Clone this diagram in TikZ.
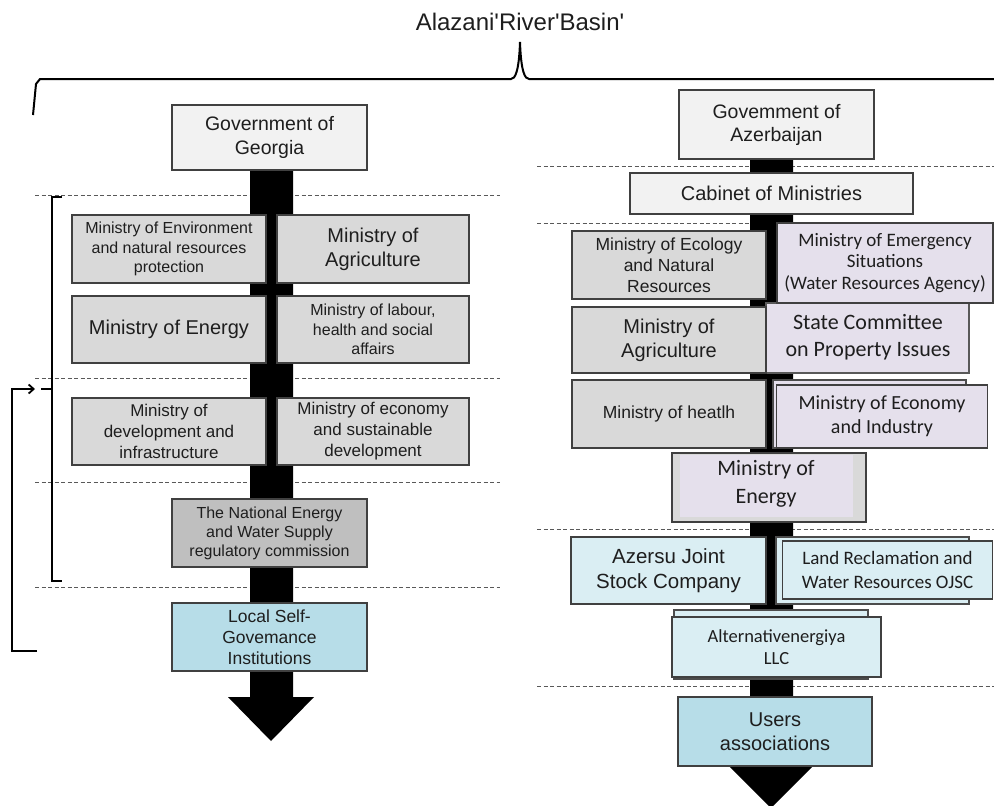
\documentclass[tikz,border=0pt]{standalone}
\usepackage{fontspec}
\setmainfont{Liberation Sans}
\newfontfamily\calfont{Carlito}
\newfontfamily\plainarial{Liberation Sans}
\usetikzlibrary{arrows.meta}
\newcommand\fsz[2]{\fontsize{#1}{#2}\selectfont}
\definecolor{govfill}{HTML}{F2F2F2}
\definecolor{minfill}{HTML}{D9D9D9}
\definecolor{natfill}{HTML}{BFBFBF}
\definecolor{locfill}{HTML}{B7DDE8}
\definecolor{lavfill}{HTML}{E5E0EC}
\definecolor{ltblue}{HTML}{DAEEF3}
\definecolor{txt}{HTML}{1E1E1E}
\begin{document}
\begin{tikzpicture}[x=1pt,y=-1pt,
  box/.style={draw=black!75, line width=1.2pt, inner sep=0pt, align=center, text=txt, rectangle},
  backbox/.style={draw=black!70, line width=1.1pt},
  dashline/.style={draw=black!65, line width=0.9pt, dash pattern=on 4pt off 2.5pt},
  heavy/.style={line width=1.8pt, black},
  bar/.style={fill=black}]
\useasboundingbox (0,0) rectangle (994,806);

% title and big brace
\node[text=txt, font=\plainarial\fsz{24}{28}] (title) at (520,22) {Alazani'River'Basin'};
\draw[heavy, line width=2pt] (33,115) -- (36,84) -- (40,79) -- (511,79)
  .. controls (515,79) and (519,72) .. (520,42)
  .. controls (521,72) and (525,79) .. (529,79) -- (994,79);

% dashed separators
\foreach \yy in {195,378,482,587} \draw[dashline] (35,\yy) -- (500,\yy);
\foreach \yy in {166,223,529,686} \draw[dashline] (537,\yy) -- (994,\yy);

% black flow bars with arrowheads
\fill[bar] (250,170) -- (293,170) -- (293,697) -- (314,697) -- (271,741) -- (228,697) -- (250,697) -- cycle;
\fill[bar] (750,159) -- (793,159) -- (793,766) -- (813,766) -- (771,808) -- (729,766) -- (750,766) -- cycle;

% ---------------- Georgia ----------------
\node[box, fill=govfill, minimum width=195, minimum height=65, font=\fsz{19.5}{24}] (geo) at (269.5,137.5)
  {Government of\\Georgia};
\node[box, fill=minfill, minimum width=194, minimum height=68, font=\fsz{16}{19.5}] (env) at (169,249)
  {Ministry of Environment\\and natural resources\\protection};
\node[box, fill=minfill, minimum width=192, minimum height=68, font=\fsz{20}{24}] (agl) at (373,249)
  {Ministry of\\Agriculture};
\node[box, fill=minfill, minimum width=194, minimum height=67, font=\fsz{20}{24}] (enl) at (169,329.5)
  {Ministry of Energy};
\node[box, fill=minfill, minimum width=192, minimum height=67, font=\fsz{16}{19.5}] (lab) at (373,329.5)
  {Ministry of labour,\\health and social\\affairs};
\node[box, fill=minfill, minimum width=194, minimum height=67, font=\fsz{17}{21}] (dev) at (169,431.5)
  {Ministry of\\development and\\infrastructure};
\node[box, fill=minfill, minimum width=192, minimum height=67, font=\fsz{17}{21}] (eco) at (373,431.5)
  {Ministry of economy\\and sustainable\\development};
\node[box, fill=natfill, minimum width=195, minimum height=68, font=\fsz{16}{19}] (nat) at (269.5,533)
  {The National Energy\\and Water Supply\\regulatory commission};
\node[box, fill=locfill, minimum width=195, minimum height=68, font=\fsz{17.5}{21}] (loc) at (269.5,637)
  {Local Self-\\Govemance\\Institutions};

% bracket and feedback arrow
\draw[heavy] (62,197) -- (52,197) -- (52,581) -- (62,581);
\coordinate (brmid) at (52,389);
\coordinate (brtip) at (41,389);
\draw[heavy] (brmid) -- (brtip);
\coordinate (fbs) at (37,651);
\coordinate (fbe) at (35,389);
\draw[heavy, -{Straight Barb[length=5pt,width=9pt]}] (fbs) -- (12,651) |- (fbe);

% ---------------- Azerbaijan ----------------
\node[box, fill=govfill, minimum width=195, minimum height=69, font=\fsz{19.5}{23}] (gaz) at (776.5,124.5)
  {Govemment of\\Azerbaijan};
\node[box, fill=govfill, minimum width=283, minimum height=41, font=\fsz{20}{24}] (cab) at (771.5,193.5)
  {Cabinet of Ministries};
\node[box, fill=minfill, minimum width=194, minimum height=68, font=\fsz{17.5}{21}] (ecl) at (669,265)
  {Ministry of Ecology\\and Natural\\Resources};
\node[box, draw=black!65, fill=lavfill, minimum width=203, minimum height=70] (stc) at (867.5,338) {};
\node[text=txt, align=center, font=\calfont\fsz{22}{27}] (stct) at (868,337) {State Committee\\on Property Issues};
\node[box, fill=lavfill, minimum width=216, minimum height=80, font=\calfont\fsz{19}{21.7}] (emg) at (885,263)
  {Ministry of Emergency\\Situations\\(Water Resources Agency)};
\node[box, fill=minfill, minimum width=194, minimum height=66, font=\fsz{20}{24}] (agr) at (669,340)
  {Ministry of\\Agriculture};
\node[box, fill=minfill, minimum width=194, minimum height=68, font=\fsz{17.5}{21}] (hea) at (669,414)
  {Ministry of heatlh};
\draw[backbox, fill=lavfill] (773,380) rectangle (966,448);
\node[box, fill=lavfill, minimum width=211, minimum height=63, font=\calfont\fsz{20}{24}] (ecoI) at (882,416.5)
  {Ministry of Economy\\and Industry};
\node[box, fill=minfill, minimum width=194, minimum height=69] (ene) at (769,487.5) {};
\fill[lavfill] (680,455) rectangle (853,517);
\node[text=txt, align=center, font=\calfont\fsz{22}{28}] (enet) at (766,484) {Ministry of\\Energy};
\node[box, fill=ltblue, minimum width=195, minimum height=67, font=\fsz{20.5}{25}] (azs) at (668.5,570.5)
  {Azersu Joint\\Stock Company};
\draw[backbox, fill=ltblue] (776,537) rectangle (969,604);
\node[box, fill=ltblue, minimum width=210, minimum height=58, font=\calfont\fsz{19}{23.5}] (land) at (887.5,570)
  {Land Reclamation and\\Water Resources OJSC};
\draw[backbox, fill=ltblue] (674,610) rectangle (868,679);
\node[box, fill=ltblue, minimum width=209, minimum height=60, font=\calfont\fsz{18.5}{22}] (alt) at (776.5,647)
  {Alternativenergiya\\LLC};
\node[box, fill=locfill, minimum width=194, minimum height=69, font=\fsz{20}{24}] (usr) at (775,731.5)
  {Users\\associations};
\end{tikzpicture}
\end{document}
